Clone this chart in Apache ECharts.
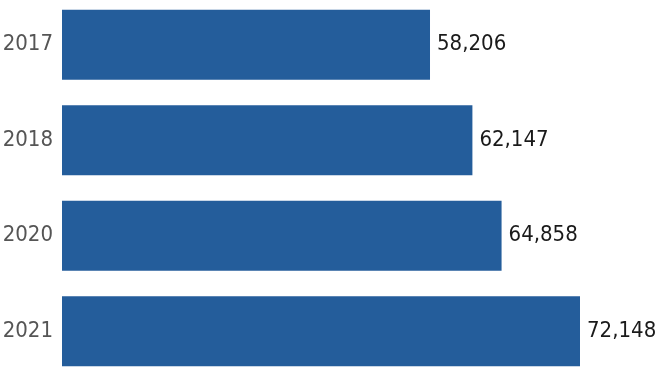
<!DOCTYPE html>
<html>
<head>
<meta charset="utf-8">
<script src="https://cdn.jsdelivr.net/npm/echarts@6/dist/echarts.min.js"></script>
<style>
  html, body { margin: 0; padding: 0; background: #fff; }
  #chart { width: 655px; height: 378px; }
</style>
</head>
<body>
<div id="chart"></div>
<script>
const years = ["2017", "2018", "2020", "2021"];
const values = [58206, 62147, 64858, 72148];

const font = "'DejaVu Sans Condensed', sans-serif";

const chart = echarts.init(document.getElementById("chart"));
chart.setOption({
  animation: false,
  grid: {
    top: -3, bottom: -1, left: 62, right: 75,
    containLabel: false,
    outerBoundsMode: "none",
  },
  xAxis: {
    type: "value",
    min: 24000,
    max: 72148,
    show: false,
  },
  yAxis: {
    type: "category",
    data: years,
    inverse: true,
    axisLine: { show: false },
    axisTick: { show: false },
    axisLabel: {
      color: "#555",
      fontFamily: font,
      fontSize: 22,
      margin: 9,
    },
  },
  series: [
    {
      type: "bar",
      data: values,
      barWidth: 70,
      itemStyle: { color: "#245d9b" },
      label: {
        show: true,
        position: "right",
        distance: 7,
        color: "#1a1a1a",
        fontFamily: font,
        fontSize: 22,
        formatter: (p) => p.value.toLocaleString("en-US"),
      },
    },
  ],
});
</script>
</body>
</html>
